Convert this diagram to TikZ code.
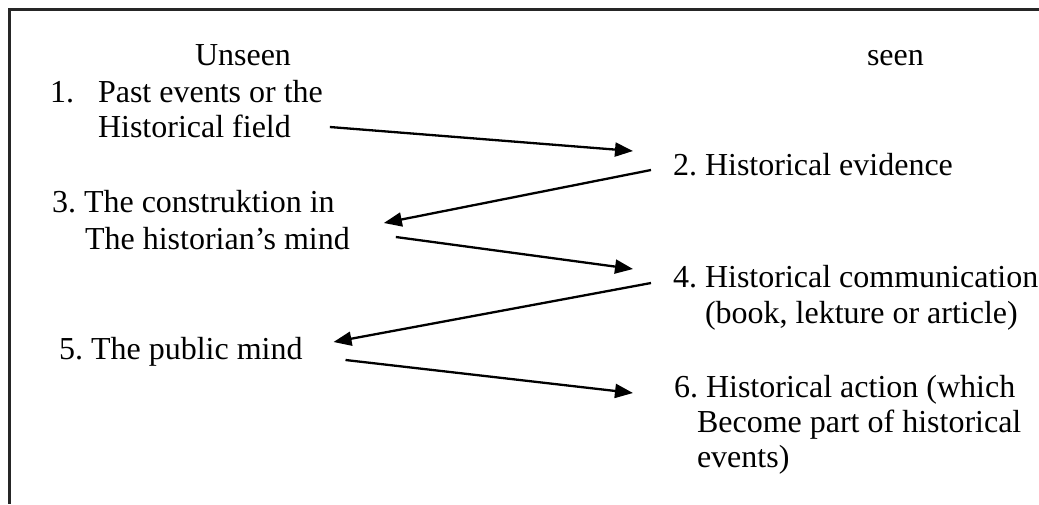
\documentclass[tikz,border=0pt]{standalone}
\usepackage{fontspec}
\setmainfont{Liberation Serif}
\usetikzlibrary{arrows.meta}
\frenchspacing
\begin{document}
\begin{tikzpicture}[x=1pt,y=-1pt,
  label/.style={anchor=base west,inner sep=0pt,outer sep=0pt,font=\fontsize{32}{38}\selectfont},
  flow/.style={line width=2.3pt,-{Triangle[length=18pt,width=14pt]}},
  frame/.style={line width=2.6pt,draw=black!85}]
\useasboundingbox (0,0) rectangle (1039,504);
% open frame: top and left sides
\draw[frame] (1039,9.5) -- (9.5,9.5) -- (9.5,504);

% column headings
\node[label] (unseen) at (195,65) {Unseen};
\node[label] (seen) at (867,65) {seen};

% left column
\node[label] (n1num) at (50,102) {1.};
\node[label] (n1a) at (98,102) {Past events or the};
\node[label] (n1b) at (98,137) {Historical field};
\node[label] (n3a) at (52,212) {3. The construktion in};
\node[label] (n3b) at (85,249) {The historian’s mind};
\node[label] (n5) at (59,359) {5. The public mind};

% right column
\node[label] (n2) at (673,175) {2. Historical evidence};
\node[label] (n4a) at (673,287) {4. Historical communication};
\node[label] (n4b) at (705,323) {(book, lekture or article)};
\node[label] (n6a) at (674,397) {6. Historical action (which};
\node[label] (n6b) at (697,432) {Become part of historical};
\node[label] (n6c) at (697,467) {events)};

% zig-zag flow between the columns
\draw[flow] ([xshift=39pt,yshift=10pt]n1b.base east) -- ([xshift=-40pt,yshift=24pt]n2.base west);
\draw[flow] ([xshift=-22pt,yshift=5pt]n2.base west) -- ([xshift=34pt,yshift=26pt]n3b.base east);
\draw[flow] ([xshift=46pt,yshift=12pt]n3b.base east) -- ([xshift=-40pt,yshift=18pt]n4a.base west);
\draw[flow] ([xshift=-22pt,yshift=4pt]n4a.base west) -- ([xshift=31pt,yshift=17pt]n5.base east);
\draw[flow] ([xshift=43pt,yshift=-1pt]n5.base east) -- ([xshift=-41pt,yshift=4pt]n6a.base west);
\end{tikzpicture}
\end{document}
